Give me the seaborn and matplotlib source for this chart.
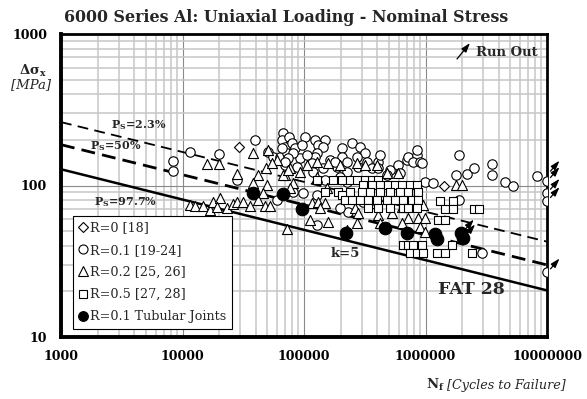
import numpy as np
import pandas as pd
import matplotlib
matplotlib.use("Agg")
import matplotlib.pyplot as plt
import seaborn as sns
from matplotlib.lines import Line2D
from matplotlib.ticker import FixedLocator, LogLocator, NullFormatter
from matplotlib.transforms import offset_copy

sns.set_style("white")
plt.rcParams["font.family"] = ["DejaVu Serif"]
plt.rcParams["mathtext.fontset"] = "dejavuserif"

# ---------------- data ----------------
series_labels = ["R=0 [18]", "R=0.1 [19-24]", "R=0.2 [25, 26]",
                 "R=0.5 [27, 28]", "R=0.1 Tubular Joints"]

# R = 0
r00_cycles = [2.93e4, 1.42e6]
r00_stress = [178.7, 99.7]

# R = 0.1
r01_cycles = [8400, 8400, 11630, 19790, 39530, 27930, 59620, 67530, 65530, 69770,
              50840, 55890, 63450, 72060, 69770, 75680, 79210, 65530, 84330, 101900,
              95740, 123200, 148900, 131100, 144100, 127200, 123200, 92700, 81640, 74260,
              105200, 163700, 204300, 204300, 247000, 289000, 317700, 271500, 224600, 328100,
              408800, 422100, 360800, 510400, 597300, 700300, 721800, 846500, 793600, 846500,
              901000, 616800, 479400, 408800, 69770, 87090, 115700, 119300, 144100, 185800,
              179900, 224600, 279900, 81640, 98670, 127200, 148900, 197800, 224600, 231500,
              307600, 990600, 197800, 127200, 1.887e6, 1.773e6, 2.184e6, 2.521e6, 3.546e6, 3.506e6,
              4.511e6, 5.221e6, 8.32e6, 1e7, 1e7, 1e7, 1e7, 1.159e6, 930400, 1.898e6,
              2.901e6]
r01_stress = [145.1, 125.2, 167.6, 160.2, 199.7, 108.7, 80.2, 221.1, 199.7, 180.4,
              167.1, 155.0, 155.0, 163.1, 136.6, 209.9, 189.9, 176.0, 176.0, 209.9,
              185.0, 199.7, 199.7, 185.0, 180.4, 163.1, 155.0, 151.2, 163.1, 151.2,
              159.0, 147.3, 176.0, 155.0, 189.9, 180.4, 163.1, 155.0, 143.6, 143.6,
              143.6, 159.0, 129.9, 126.6, 136.6, 147.3, 155.0, 159.0, 143.6, 171.5,
              143.6, 120.4, 117.3, 129.9, 143.6, 133.1, 140.1, 123.3, 129.9, 133.1,
              143.6, 123.3, 133.1, 91.0, 88.8, 86.6, 108.7, 114.3, 105.9, 67.2,
              78.2, 105.9, 70.7, 54.9, 159.0, 117.3, 119.1, 129.9, 138.7, 117.3,
              105.0, 99.2, 115.0, 107.1, 89.6, 79.0, 26.7, 103.4, 140.1, 80.2,
              35.7]

# R = 0.2
r02_cycles = [16000, 19970, 38240, 42060, 48670, 49320, 38240, 27930, 59620, 50550,
              54230, 69770, 76700, 46240, 11530, 12670, 14840, 16840, 17920, 20350,
              19120, 23110, 26190, 27930, 31650, 35940, 42060, 47750, 52500, 72060,
              67530, 74260, 92700, 105200, 127200, 158500, 197800, 271500, 317700, 396700,
              479400, 597300, 81640, 127200, 153800, 76700, 115700, 131100, 148900, 263000,
              279900, 349300, 408800, 527100, 637000, 721800, 872400, 959200, 990600, 901000,
              112000, 158500, 224600, 271500, 422100, 1.773e6, 1.986e6, 990600, 637000, 135500]
r02_stress = [138.7, 138.7, 163.1, 117.3, 131.1, 100.8, 103.4, 118.6, 147.3, 171.5,
              140.1, 117.3, 129.9, 88.8, 74.3, 73.2, 73.2, 68.9, 78.2, 82.3,
              72.4, 70.7, 75.5, 78.2, 78.2, 73.2, 80.2, 73.6, 73.2, 51.6,
              117.3, 126.6, 123.3, 136.6, 143.6, 140.1, 136.6, 140.1, 136.6, 136.6,
              120.4, 120.4, 103.4, 114.3, 95.8, 95.8, 76.3, 78.2, 76.3, 70.7,
              65.5, 76.3, 63.9, 65.5, 72.4, 60.8, 60.8, 74.3, 60.8, 53.5,
              59.2, 57.7, 50.8, 56.3, 56.3, 100.8, 100.8, 49.5, 56.3, 70.7]

# R = 0.5
r05_cycles = [127200, 174300, 204300, 239100, 271500, 317700, 360800, 408800,
              307600, 360800, 422100, 494100, 561000, 637000, 745400, 846500,
              148900, 191600, 239100, 298500, 349300, 422100, 510400, 616800, 721800, 872400,
              204300,
              217500, 247000, 289000, 338200, 396700, 479400, 561000, 656800, 769900, 872400,
              338200, 408800, 510400, 656800, 721800, 846500,
              1.316e6, 1.694e6,
              1.447e6, 1.694e6, 2.507e6, 2.773e6,
              1.275e6, 1.447e6,
              656800, 721800, 793600, 930400, 1.643e6,
              745400, 846500, 959200, 1.237e6, 1.447e6, 2.4e6]
r05_stress = [108.7] * 8 + [100.8] * 8 + [91.0] * 10 + [86.6] + [80.2] * 10 + \
             [70.7] * 6 + [79.0] * 2 + [70.0] * 4 + [59.2] * 2 + [40.5] * 5 + [35.6] * 6

# R = 0.1 tubular joints
tub_cycles = [38300, 67500, 96300, 222900, 464000, 704000, 1.186e6, 1.25e6, 1.97e6, 2.02e6]
tub_stress = [89.2, 88.3, 70.3, 48.6, 52.4, 48.3, 47.9, 44.4, 48.3, 44.8]

# run-out specimens
runout_cycles = [1e7, 1e7, 1e7, 1e7, 1e7, 1.97e6, 2.02e6]
runout_stress = [118.0, 107.1, 89.6, 79.0, 26.7, 48.3, 44.8]

# design curves (k = 5), end points at 1e3 and 1e7 cycles
curve_cycles = [1e3, 1e7]
ps023_stress = [262.0, 42.6]
ps500_stress = [186.0, 29.9]
ps977_stress = [128.0, 20.3]

x_ticks = [1e3, 1e4, 1e5, 1e6, 1e7]
x_tick_labels = ["1000", "10000", "100000", "1000000", "10000000"]
y_ticks = [10, 100, 1000]
y_tick_labels = ["10", "100", "1000"]

# ---------------- figure ----------------
W, H = 587, 399
fig = plt.figure(figsize=(W / 100, H / 100), dpi=100)
fig.patch.set_facecolor("white")


def px(x, y):
    return x / W, 1 - y / H


ax = fig.add_axes([61 / W, 1 - 337 / H, (547 - 61) / W, (337 - 34) / H])
ax.set_xscale("log")
ax.set_yscale("log")

frames = []
for lab, c, s in zip(series_labels,
                     [r00_cycles, r01_cycles, r02_cycles, r05_cycles, tub_cycles],
                     [r00_stress, r01_stress, r02_stress, r05_stress, tub_stress]):
    frames.append(pd.DataFrame({"N": c, "S": s, "series": lab}))
df = pd.concat(frames, ignore_index=True)

# design curves
curves = pd.DataFrame({"N": curve_cycles * 3,
                       "S": ps023_stress + ps500_stress + ps977_stress,
                       "curve": ["p023"] * 2 + ["p500"] * 2 + ["p977"] * 2})
for name, lw, dash in [("p023", 1.3, (6, 3.5)), ("p500", 2.0, (5, 2.6)), ("p977", 1.8, None)]:
    sns.lineplot(data=curves[curves.curve == name], x="N", y="S", ax=ax,
                 color="black", lw=lw, zorder=3, legend=False)
    if dash is not None:
        ax.lines[-1].set_dashes(dash)

styles = {
    "R=0 [18]": dict(marker="D", s=26, color="white", lw=0.8, z=4),
    "R=0.1 [19-24]": dict(marker="o", s=46, color="white", lw=0.8, z=4),
    "R=0.2 [25, 26]": dict(marker="^", s=52, color="white", lw=0.8, z=5),
    "R=0.5 [27, 28]": dict(marker="s", s=40, color="white", lw=0.8, z=6),
    "R=0.1 Tubular Joints": dict(marker="o", s=82, color="black", lw=0.8, z=7),
}
for lab in series_labels:
    st = styles[lab]
    sns.scatterplot(data=df[df.series == lab], x="N", y="S", ax=ax,
                    marker=st["marker"], s=st["s"], color=st["color"],
                    edgecolor="black", linewidth=st["lw"], zorder=st["z"],
                    legend=False)

# run-out arrows
tail_tr = offset_copy(ax.transData, fig=fig, x=2.5, y=2.5, units="points")
head_tr = offset_copy(ax.transData, fig=fig, x=9.0, y=10.0, units="points")
for n, s in zip(runout_cycles, runout_stress):
    ax.annotate("", xy=(n, s), xycoords=head_tr, xytext=(n, s), textcoords=tail_tr,
                arrowprops=dict(arrowstyle="-|>,head_length=0.55,head_width=0.18",
                                color="black", lw=0.9, shrinkA=0, shrinkB=0),
                annotation_clip=False, zorder=8)

# axes styling
ax.set_xlim(1e3, 1e7)
ax.set_ylim(10, 1000)
ax.xaxis.set_major_locator(FixedLocator(x_ticks))
ax.set_xticklabels(x_tick_labels)
ax.yaxis.set_major_locator(FixedLocator(y_ticks))
ax.set_yticklabels(y_tick_labels)
for axis in (ax.xaxis, ax.yaxis):
    axis.set_minor_locator(LogLocator(base=10, subs=np.arange(2, 10)))
    axis.set_minor_formatter(NullFormatter())
ax.tick_params(which="major", direction="out", length=4, width=1.6,
               labelsize=9, colors="black")
ax.tick_params(axis="x", which="major", pad=5)
ax.tick_params(axis="y", which="major", pad=6)
ax.tick_params(which="minor", direction="in", length=3.5, width=1.2)
for lab in ax.get_xticklabels() + ax.get_yticklabels():
    lab.set_fontweight("bold")
ax.grid(which="minor", color="#c6c6c6", lw=1.1)
ax.grid(which="major", color="#8a8a8a", lw=0.8)
ax.set_axisbelow(True)
for side, lw in [("left", 2.8), ("bottom", 2.8), ("top", 2.0), ("right", 2.0)]:
    ax.spines[side].set_visible(True)
    ax.spines[side].set_color("black")
    ax.spines[side].set_linewidth(lw)
ax.set_xlabel("")
ax.set_ylabel("")

# legend
handles = [
    Line2D([], [], ls="", marker="D", ms=5, mfc="white", mec="black", mew=0.8),
    Line2D([], [], ls="", marker="o", ms=6.5, mfc="white", mec="black", mew=0.8),
    Line2D([], [], ls="", marker="^", ms=6.5, mfc="white", mec="black", mew=0.8),
    Line2D([], [], ls="", marker="s", ms=6, mfc="white", mec="black", mew=0.8),
    Line2D([], [], ls="", marker="o", ms=7, mfc="black", mec="black", mew=0.8),
]
leg = ax.legend(handles, series_labels, loc="lower left",
                bbox_to_anchor=((73 - 61) / 486, (337 - 329) / 303),
                borderaxespad=0, frameon=True, fancybox=False, framealpha=1,
                edgecolor="black", fontsize=9.2, handlelength=0.7, handletextpad=0.2,
                labelspacing=0.72, borderpad=0.45)
leg.get_frame().set_linewidth(0.8)
leg.set_zorder(10)

# annotations
fig.text(*px(286, 18), "6000 Series Al: Uniaxial Loading - Nominal Stress",
         ha="center", va="center", fontsize=11.4, fontweight="bold")
fig.text(*px(33, 71), "Δσ$_\\mathbf{x}$", ha="center", va="center",
         fontsize=9.5, fontweight="bold")
fig.text(*px(31, 85), "[MPa]", ha="center", va="center", fontsize=9.5, style="italic")
fig.text(*px(426, 385), "N$_\\mathbf{f}$", ha="left", va="center",
         fontsize=9.5, fontweight="bold")
fig.text(*px(566, 385), "[Cycles to Failure]", ha="right", va="center",
         fontsize=9.2, style="italic")

fig.text(*px(139, 125), "P$_\\mathbf{S}$=2.3%", ha="center", va="center",
         fontsize=8, fontweight="bold")
fig.text(*px(115.5, 146.5), "P$_\\mathbf{S}$=50%", ha="center", va="center",
         fontsize=8, fontweight="bold")
fig.text(*px(125.5, 201.7), "P$_\\mathbf{S}$=97.7%", ha="center", va="center",
         fontsize=8, fontweight="bold")
fig.text(*px(345.5, 253.3), "k=5", ha="center", va="center",
         fontsize=9.5, fontweight="bold")
fig.text(*px(471, 289.3), "FAT 28", ha="center", va="center",
         fontsize=12.5, fontweight="bold")

ax.annotate("", xy=px(470, 43), xycoords="figure fraction",
            xytext=px(457, 59), textcoords="figure fraction",
            arrowprops=dict(arrowstyle="-|>,head_length=0.55,head_width=0.18",
                            color="black", lw=0.9, shrinkA=0, shrinkB=0),
            annotation_clip=False)
fig.text(*px(476, 53), "Run Out", ha="left", va="center",
         fontsize=9.5, fontweight="bold")

fig.savefig("out.png", dpi=100, facecolor="white")
